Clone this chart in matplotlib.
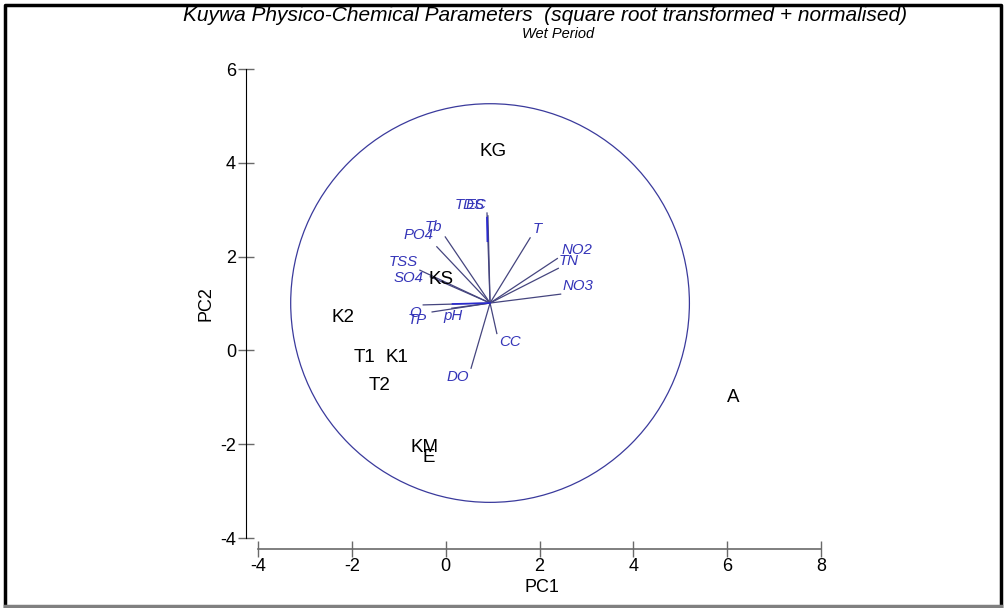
import matplotlib
matplotlib.use("Agg")
import matplotlib.pyplot as plt
from matplotlib.patches import Circle, Rectangle

plt.rcParams['font.family'] = ['Liberation Sans', 'DejaVu Sans']
plt.rcParams['axes.unicode_minus'] = False

# sample scores on PC1 / PC2
sites = ['KG', 'KS', 'K2', 'T1', 'K1', 'T2', 'KM', 'E', 'A']
pc1 = [1.01, -0.10, -2.19, -1.74, -1.04, -1.40, -0.46, -0.36, 6.13]
pc2 = [4.25, 1.52, 0.71, -0.16, -0.16, -0.74, -2.08, -2.29, -1.01]

# parameter vectors (tips) and where their names sit
params = ['TDS', 'EC', 'T', 'NO2', 'TN', 'NO3', 'CC', 'DO', 'pH', 'TP', 'O',
          'SO4', 'TSS', 'PO4', 'Tb']
vec_x = [0.88, 0.90, 1.80, 2.38, 2.40, 2.45, 1.09, 0.54, 0.13, -0.29, -0.48,
         -0.33, -0.55, -0.19, -0.01]
vec_y = [2.93, 2.87, 2.40, 1.96, 1.75, 1.20, 0.36, -0.38, 0.90, 0.82, 0.97,
         1.57, 1.71, 2.21, 2.42]
lab_x = [0.52, 0.64, 1.94, 2.80, 2.62, 2.82, 1.38, 0.26, 0.16, -0.61, -0.65,
         -0.80, -0.90, -0.58, -0.26]
lab_y = [3.10, 3.10, 2.58, 2.15, 1.91, 1.38, 0.17, -0.57, 0.73, 0.64, 0.80,
         1.54, 1.89, 2.46, 2.64]

origin = (0.945, 1.01)
radius = 4.25

title = 'Kuywa Physico-Chemical Parameters  (square root transformed + normalised)'
subtitle = 'Wet Period'

fig = plt.figure(figsize=(10.06, 6.08), dpi=100)
ax = fig.add_axes([0.2379, 0.07656, 0.6015, 0.8485])
ax.set_xlim(-4.4, 8.5)
ax.set_ylim(-4.5, 6.5)

# correlation circle
ax.add_patch(Circle(origin, radius, fill=False, ec='#3a3a9c', lw=0.9))

# vectors
for vx, vy in zip(vec_x, vec_y):
    ax.plot([origin[0], vx], [origin[1], vy], color='#45457e', lw=0.9)
ax.plot([vec_x[0], vec_x[0] + 0.01], [vec_y[0] - 0.1, vec_y[0] - 0.6], color='#2a2ad0', lw=1.3)
ax.plot([origin[0] - 0.8, origin[0]], [origin[1] - 0.02, origin[1]], color='#2a2ad0', lw=1.2)

for name, lx, ly in zip(params, lab_x, lab_y):
    ax.text(lx, ly, name, color='#3434b8', fontsize=10.8, style='italic',
            ha='center', va='center')

for s, x, y in zip(sites, pc1, pc2):
    ax.text(x, y, s, color='black', fontsize=13.5, ha='center', va='center')

# axes in the offset style
for side in ['top', 'right']:
    ax.spines[side].set_visible(False)
ax.spines['left'].set_position(('data', -4.25))
ax.spines['left'].set_bounds(-4, 6)
ax.spines['left'].set_color('black')
ax.spines['bottom'].set_position(('data', -4.23))
ax.spines['bottom'].set_bounds(-4, 8)
ax.spines['bottom'].set_color('#6a6a6a')
ax.spines['bottom'].set_linewidth(1.2)

ax.set_xticks([-4, -2, 0, 2, 4, 6, 8])
ax.set_yticks([-4, -2, 0, 2, 4, 6])
ax.tick_params(axis='both', direction='inout', length=11, width=1,
               color='#6a6a6a', labelsize=13, pad=2)
ax.tick_params(axis='x', pad=1)

ax.set_xlabel('PC1', fontsize=13, labelpad=3)
ax.set_ylabel('PC2', fontsize=13, labelpad=4)

fig.text(0.542, 0.975, title, fontsize=15, style='italic', ha='center', va='center')
fig.text(0.555, 0.944, subtitle, fontsize=10.5, style='italic', ha='center', va='center')

# page frame: dark on top/left/right, grey along the bottom
fr = dict(transform=fig.transFigure, lw=2.5)
fig.lines.append(plt.Line2D([5 / 1006, 5 / 1006, 1001 / 1006, 1001 / 1006],
                            [2 / 608, 603 / 608, 603 / 608, 2 / 608], color='black', **fr))
fig.lines.append(plt.Line2D([5 / 1006, 1001 / 1006], [2 / 608, 2 / 608],
                            color='#808080', **fr))

fig.savefig('out.png', dpi=100)
